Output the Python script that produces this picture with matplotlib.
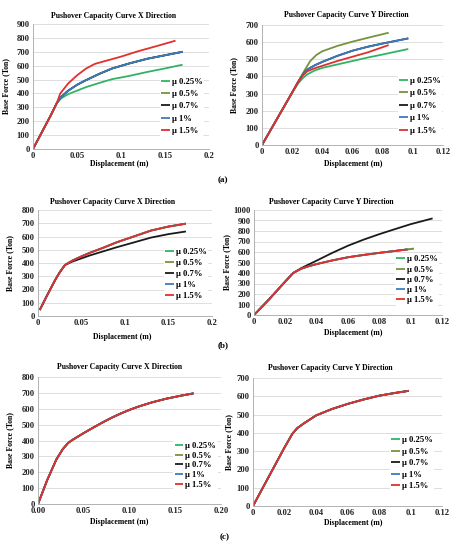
import matplotlib
matplotlib.use("Agg")
import matplotlib.pyplot as plt

plt.rcParams['font.family'] = ['Liberation Serif', 'DejaVu Serif']

# series names and colours (same order in every chart)
labels = ["\u00b5 0.25%", "\u00b5 0.5%", "\u00b5 0.7%", "\u00b5 1%", "\u00b5 1.5%"]
colors = ["#2fb463", "#77933c", "#1a1a1a", "#3b7cc0", "#e0302e"]

# ---- (a) X direction
ax_green_x = [0, 0.01, 0.02, 0.027, 0.032, 0.04, 0.05, 0.06, 0.075, 0.09, 0.11, 0.13, 0.15, 0.17]
ax_green_y = [0, 120, 240, 330, 365, 395, 420, 445, 475, 503, 527, 555, 580, 607]
ax_blue_x = [0, 0.01, 0.02, 0.027, 0.032, 0.04, 0.05, 0.06, 0.075, 0.09, 0.11, 0.13, 0.15, 0.17]
ax_blue_y = [0, 120, 240, 330, 375, 420, 462, 495, 540, 580, 617, 650, 675, 700]
ax_red_x = [0, 0.01, 0.02, 0.027, 0.031, 0.04, 0.05, 0.06, 0.07, 0.08, 0.1, 0.12, 0.14, 0.162]
ax_red_y = [0, 120, 240, 330, 400, 472, 530, 578, 612, 630, 665, 705, 740, 780]

# ---- (a) Y direction
ay_green_x = [0, 0.01, 0.02, 0.024, 0.027, 0.03, 0.035, 0.04, 0.05, 0.06, 0.07, 0.08, 0.097]
ay_green_y = [0, 153, 306, 360, 390, 412, 435, 450, 470, 490, 510, 528, 560]
ay_olive_x = [0, 0.01, 0.02, 0.024, 0.028, 0.032, 0.036, 0.04, 0.05, 0.06, 0.07, 0.084]
ay_olive_y = [0, 153, 306, 369, 432, 490, 525, 547, 578, 603, 625, 655]
ay_blue_x = [0, 0.01, 0.02, 0.024, 0.027, 0.03, 0.035, 0.04, 0.05, 0.06, 0.07, 0.08, 0.097]
ay_blue_y = [0, 153, 306, 369, 410, 440, 465, 485, 520, 550, 573, 592, 622]
ay_red_x = [0, 0.01, 0.02, 0.024, 0.027, 0.03, 0.035, 0.04, 0.05, 0.06, 0.07, 0.084]
ay_red_y = [0, 153, 306, 369, 405, 430, 448, 462, 490, 515, 540, 583]

# ---- (b) X direction
bx_red_x = [0.002, 0.01, 0.02, 0.025, 0.031, 0.04, 0.05, 0.06, 0.075, 0.09, 0.11, 0.13, 0.15, 0.17]
bx_red_y = [45, 150, 275, 330, 385, 420, 450, 478, 515, 555, 600, 645, 675, 697]
bx_black_x = [0.002, 0.01, 0.02, 0.025, 0.031, 0.04, 0.05, 0.06, 0.075, 0.09, 0.11, 0.13, 0.15, 0.17]
bx_black_y = [45, 150, 275, 330, 385, 412, 435, 458, 488, 518, 555, 592, 618, 638]

# ---- (b) Y direction
by_green_x = [0, 0.01, 0.02, 0.025, 0.03, 0.035, 0.04, 0.05, 0.06, 0.07, 0.08, 0.09, 0.102]
by_green_y = [0, 155, 320, 400, 440, 465, 485, 520, 550, 572, 592, 610, 632]
by_red_x = [0, 0.01, 0.02, 0.025, 0.03, 0.035, 0.04, 0.05, 0.06, 0.07, 0.08, 0.09, 0.098]
by_red_y = [0, 155, 320, 400, 440, 465, 485, 520, 550, 572, 592, 610, 625]
by_black_x = [0, 0.01, 0.02, 0.025, 0.03, 0.035, 0.04, 0.05, 0.06, 0.07, 0.08, 0.09, 0.1, 0.114]
by_black_y = [0, 155, 320, 400, 445, 482, 518, 592, 660, 718, 770, 818, 865, 920]

# ---- (c) all ductility values give the same curve
cx_x = [0, 0.01, 0.02, 0.027, 0.033, 0.038, 0.05, 0.06, 0.07, 0.08, 0.09, 0.1, 0.11, 0.125, 0.14, 0.155, 0.17]
cx_y = [0, 150, 280, 345, 385, 405, 447, 480, 512, 542, 569, 593, 614, 641, 663, 681, 697]
cy_x = [0, 0.01, 0.02, 0.025, 0.028, 0.032, 0.04, 0.05, 0.06, 0.07, 0.08, 0.09, 0.099]
cy_y = [0, 160, 320, 395, 425, 450, 495, 530, 558, 582, 603, 618, 630]

xticks_x = [0, 0.05, 0.1, 0.15, 0.2]
xlabels_x_a = ["0", "0.05", "0.1", "0.15", "0.2"]
xlabels_x_c = ["0.00", "0.05", "0.10", "0.15", "0.20"]
xticks_y = [0, 0.02, 0.04, 0.06, 0.08, 0.1, 0.12]
xlabels_y = ["0", "0.02", "0.04", "0.06", "0.08", "0.1", "0.12"]

W, H = 453, 553
FS = 5.6
TICK_FS = 6.2
LEG_FS = 6.2


def px_rect(l, r, t, b):
    return [l / W, 1 - b / H, (r - l) / W, (b - t) / H]


def panel(fig, rect, series, title, ymax, xticks, xlabels, title_pos, xlab_pos, ylab_x, leg_pos, leg_sp):
    ax = fig.add_axes(rect)
    for (x, y), lab, c in zip(series, labels, colors):
        ax.plot(x, y, color=c, lw=1.3, label=lab, solid_capstyle='butt')
    ax.set_xlim(xticks[0], xticks[-1])
    ax.set_ylim(0, ymax)
    ax.set_yticks(range(0, ymax + 1, 100))
    ax.set_xticks(xticks)
    ax.set_xticklabels(xlabels)
    ax.yaxis.grid(True, color="#d9d9d9", lw=0.6)
    ax.set_axisbelow(True)
    for s in ["top", "right"]:
        ax.spines[s].set_visible(False)
    for s in ["left", "bottom"]:
        ax.spines[s].set_color("#a6a6a6")
        ax.spines[s].set_linewidth(0.6)
    ax.tick_params(length=0, labelsize=TICK_FS, pad=2.5, labelcolor="#222222")
    for t in ax.get_xticklabels() + ax.get_yticklabels():
        t.set_fontweight("bold")
    ax.set_title(title, fontsize=FS, fontweight="bold", x=title_pos[0], y=title_pos[1],
                 va="center", pad=0)
    ax.set_xlabel("Displacement (m)", fontsize=FS, fontweight="bold", va="center")
    ax.xaxis.set_label_coords(xlab_pos[0], xlab_pos[1])
    ax.set_ylabel("Base Force (Ton)", fontsize=FS, fontweight="bold", va="center")
    ax.yaxis.set_label_coords(ylab_x, 0.5)
    leg = ax.legend(loc="upper left", bbox_to_anchor=leg_pos, borderaxespad=0, borderpad=0.15,
                    handlelength=1.0, handletextpad=0.25, labelspacing=leg_sp,
                    fontsize=LEG_FS, frameon=True, facecolor="white", edgecolor="none", framealpha=1)
    for t in leg.get_texts():
        t.set_fontweight("bold")
    return ax


fig = plt.figure(figsize=(W / 100, H / 100), dpi=100)

panel(fig, px_rect(33, 209, 24, 149),
      [(ax_green_x, ax_green_y), (ax_blue_x, ax_blue_y), (ax_blue_x, ax_blue_y),
       (ax_blue_x, ax_blue_y), (ax_red_x, ax_red_y)],
      "Pushover Capacity Curve X Direction", 900, xticks_x, xlabels_x_a,
      (0.455, 1.064), (0.49, -0.12), -0.155, (0.72, 0.58), 0.5)

panel(fig, px_rect(262, 443, 25, 145),
      [(ay_green_x, ay_green_y), (ay_olive_x, ay_olive_y), (ay_blue_x, ay_blue_y),
       (ay_blue_x, ay_blue_y), (ay_red_x, ay_red_y)],
      "Pushover Capacity Curve Y Direction", 700, xticks_y, xlabels_y,
      (0.468, 1.083), (0.504, -0.158), -0.153, (0.75, 0.58), 0.52)

panel(fig, px_rect(38, 212, 210, 316),
      [(bx_red_x, bx_red_y), (bx_red_x, bx_red_y), (bx_black_x, bx_black_y),
       (bx_red_x, bx_red_y), (bx_red_x, bx_red_y)],
      "Pushover Capacity Curve X Direction", 800, xticks_x, xlabels_x_a,
      (0.431, 1.075), (0.487, -0.195), -0.161, (0.725, 0.65), 0.33)

panel(fig, px_rect(254, 442, 210, 315),
      [(by_green_x, by_green_y), (by_green_x, by_green_y), (by_black_x, by_black_y),
       (by_red_x, by_red_y), (by_red_x, by_red_y)],
      "Pushover Capacity Curve Y Direction", 1000, xticks_y, xlabels_y,
      (0.41, 1.076), (0.528, -0.171), -0.145, (0.75, 0.58), 0.26)

panel(fig, px_rect(38, 221, 377, 504),
      [(cx_x, cx_y)] * 5,
      "Pushover Capacity Curve X Direction", 800, xticks_x, xlabels_x_c,
      (0.448, 1.081), (0.444, -0.142), -0.153, (0.74, 0.5), 0.2)

panel(fig, px_rect(253, 442, 378, 506),
      [(cy_x, cy_y)] * 5,
      "Pushover Capacity Curve Y Direction", 700, xticks_y, xlabels_y,
      (0.407, 1.078), (0.53, -0.13), -0.127, (0.725, 0.555), 0.4)

for lab, (px, py) in zip(["(a)", "(b)", "(c)"], [(223, 180), (223, 345), (225, 537)]):
    fig.text(px / W, 1 - py / H, lab, fontsize=6.5, fontweight="bold", ha="center", va="center")

fig.savefig("out.png", dpi=100)
